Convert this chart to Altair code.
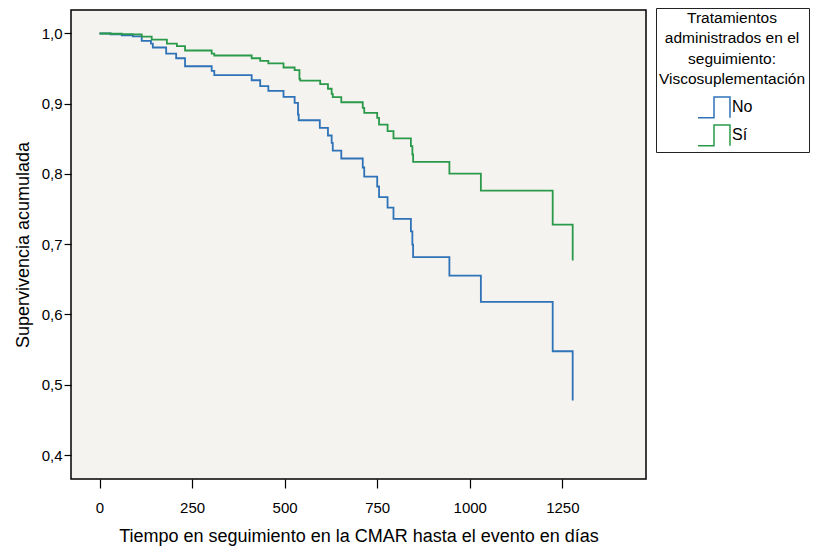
import altair as alt
import pandas as pd

# --- Data (Kaplan-Meier steps) ---
no_t = [0, 30, 60, 90, 114, 139, 144, 180, 207, 231, 303, 310, 411, 434, 456, 497,
        527, 536, 538, 595, 617, 627, 630, 653, 711, 715, 750, 755, 778, 794, 841,
        845, 847, 945, 1030, 1224, 1278]
no_s = [0.9996, 0.9985, 0.9970, 0.9955, 0.9890, 0.9853, 0.9797, 0.9711, 0.9644,
        0.9530, 0.9465, 0.9403, 0.9331, 0.9246, 0.9180, 0.9095, 0.9010, 0.8843,
        0.8762, 0.8654, 0.8545, 0.8440, 0.8331, 0.8218, 0.8090, 0.7960, 0.7820,
        0.7670, 0.7520, 0.7360, 0.7183, 0.6994, 0.6815, 0.6553, 0.6179, 0.5477,
        0.4775]

si_t = [0, 30, 60, 90, 114, 141, 182, 209, 231, 303, 310, 411, 434, 456, 497, 527,
        540, 542, 596, 617, 627, 630, 653, 711, 715, 750, 755, 778, 794, 841, 845,
        847, 945, 1030, 1224, 1278]
si_s = [0.9996, 0.9992, 0.9988, 0.9983, 0.9950, 0.9910, 0.9853, 0.9815, 0.9754,
        0.9711, 0.9683, 0.9644, 0.9607, 0.9570, 0.9512, 0.9474, 0.9350, 0.9327,
        0.9275, 0.9210, 0.9138, 0.9090, 0.9018, 0.8939, 0.8868, 0.8797, 0.8701,
        0.8606, 0.8504, 0.8393, 0.8275, 0.8171, 0.8002, 0.7760, 0.7279, 0.6767]

groups = ["No", "Sí"]
colors = ["#2e72b8", "#2a9a4a"]
x_ticks = [0, 250, 500, 750, 1000, 1250]
y_ticks = [0.4, 0.5, 0.6, 0.7, 0.8, 0.9, 1.0]
legend_title = ["Tratamientos", "administrados en el", "seguimiento:", "Viscosuplementación"]
x_title = "Tiempo en seguimiento en la CMAR hasta el evento en días"
y_title = "Supervivencia acumulada"

df = pd.concat([
    pd.DataFrame({"t": no_t, "s": no_s, "g": groups[0]}),
    pd.DataFrame({"t": si_t, "s": si_s, "g": groups[1]}),
], ignore_index=True)

FONT = "Liberation Sans"

chart = alt.Chart(df).mark_line(interpolate="step-after", strokeWidth=1.8).encode(
    x=alt.X("t:Q",
            scale=alt.Scale(domain=[-77, 1476], nice=False, zero=False),
            axis=alt.Axis(values=x_ticks, title=x_title, format="d",
                          grid=False, domain=False, tickColor="black", tickSize=9,
                          tickWidth=1.2, labelFontSize=15, labelPadding=12,
                          labelColor="black", titleFontSize=18, titleFontWeight="normal",
                          titleColor="black", titlePadding=12)),
    y=alt.Y("s:Q",
            scale=alt.Scale(domain=[0.366, 1.033], nice=False, zero=False),
            axis=alt.Axis(values=y_ticks, title=y_title,
                          labelExpr="replace(format(datum.value, '.1f'), '.', ',')",
                          grid=False, domain=False, tickColor="black", tickSize=7,
                          tickWidth=1.2, labelFontSize=15, labelPadding=2,
                          labelColor="black", titleFontSize=18, titleFontWeight="normal",
                          titleColor="black", titlePadding=9)),
    color=alt.Color("g:N",
                    scale=alt.Scale(domain=groups, range=colors),
                    legend=alt.Legend(
                        title=legend_title, orient="none", legendX=585, legendY=-2,
                        titleFontSize=15.5, titleFontWeight="normal", titleColor="black",
                        titleLineHeight=20.3, titleAnchor="middle", titleAlign="center",
                        titlePadding=6,
                        labelFontSize=16, labelColor="black", labelOffset=4,
                        symbolType="M -1.23 0.8 L 0 0.8 L 0 -0.8 L 1.23 -0.8 L 1.23 0.8",
                        symbolSize=676, symbolStrokeWidth=1.5,
                        symbolFillColor="transparent", symbolOffset=-12,
                        rowPadding=0, padding=3, strokeColor="#222222",
                        fillColor="white")),
).properties(
    width=575, height=469,
    autosize=alt.AutoSizeParams(type="none"),
    padding={"left": 63, "top": 2, "right": 164, "bottom": 70},
).configure(font=FONT).configure_view(
    fill="#f4f3ef", stroke="black", strokeWidth=1.5
)

chart.save("out.html", embed_options={"renderer": "svg", "actions": False})
